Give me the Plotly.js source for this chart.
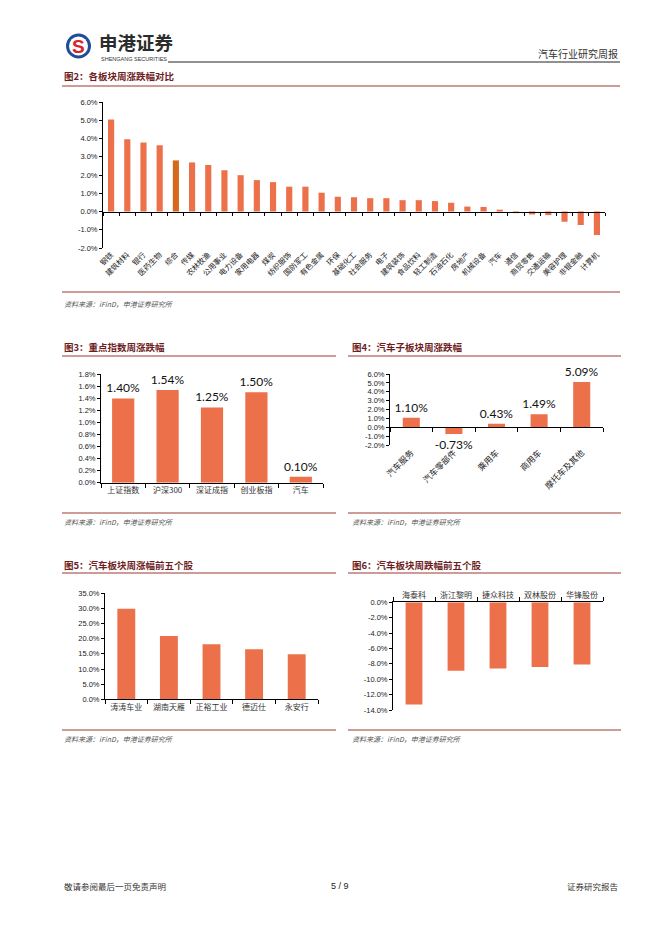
<!DOCTYPE html>
<html>
<head>
<meta charset="utf-8">
<script src="https://cdn.plot.ly/plotly-3.0.1.min.js"></script>
<style>
html,body{margin:0;padding:0;background:#fff;}
#page{width:662px;height:936px;}
</style>
</head>
<body>
<div id="page"></div>
<script>
// ---------- data ----------
const f2Cats = ['钢铁','建筑材料','银行','医药生物','综合','传媒','农林牧渔','公用事业','电力设备','家用电器','煤炭','纺织服饰','国防军工','有色金属','环保','基础化工','社会服务','电子','建筑装饰','食品饮料','轻工制造','石油石化','房地产','机械设备','汽车','通信','商贸零售','交通运输','美容护理','非银金融','计算机'];
const f2Vals = [5.04,3.96,3.78,3.63,2.80,2.69,2.55,2.26,1.99,1.72,1.61,1.36,1.36,1.03,0.81,0.78,0.73,0.73,0.62,0.62,0.57,0.48,0.27,0.25,0.10,-0.09,-0.16,-0.20,-0.56,-0.74,-1.29];
const f2Highlight = '综合';
const f2Ticks = [-2,-1,0,1,2,3,4,5,6];

const f3Cats = ['上证指数','沪深300','深证成指','创业板指','汽车'];
const f3Vals = [1.40,1.54,1.25,1.50,0.10];
const f3Ticks = [0,0.2,0.4,0.6,0.8,1.0,1.2,1.4,1.6,1.8];

const f4Cats = ['汽车服务','汽车零部件','乘用车','商用车','摩托车及其他'];
const f4Vals = [1.10,-0.73,0.43,1.49,5.09];
const f4Ticks = [-2,-1,0,1,2,3,4,5,6];

const f5Cats = ['涛涛车业','湖南天雁','正裕工业','德迈仕','永安行'];
const f5Vals = [29.9,20.9,18.2,16.5,14.9];
const f5Ticks = [0,5,10,15,20,25,30,35];

const f6Cats = ['海泰科','浙江黎明','捷众科技','双林股份','华锋股份'];
const f6Vals = [-13.3,-8.9,-8.6,-8.4,-8.1];
const f6Ticks = [0,-2,-4,-6,-8,-10,-12,-14];

// ---------- helpers ----------
const W = 662, H = 936;
const X = p => p / W;
const Y = p => 1 - p / H;
const pct1 = v => v.toFixed(1) + '%';
const pct2 = v => v.toFixed(2) + '%';
const zeroPos = (dom, rng) => dom[0] + (0 - rng[0]) / (rng[1] - rng[0]) * (dom[1] - dom[0]);

const BAR = '#EC7049';
const BAR_DARK = '#D5691C';
const RED_LINE = '#9B3A2E';
const TITLE_COL = '#6E1E1E';
const CJK = 'Noto Sans CJK SC, sans-serif';
const LAT = 'Liberation Sans, Arial, sans-serif';
const LBL = 'Lato, Carlito, sans-serif';

// domains
const d2x = [X(103), X(605)], d2y = [Y(248), Y(102)], r2 = [-2, 6];
const d3x = [X(101), X(323)], d3y = [Y(482.7), Y(374.3)], r3 = [0, 1.8];
const d4x = [X(390), X(603)], d4y = [Y(445.3), Y(374)], r4 = [-2, 6];
const d5x = [X(105), X(318)], d5y = [Y(699.3), Y(593.3)], r5 = [0, 35];
const d6x = [X(393), X(603)], d6y = [Y(710), Y(602.3)], r6 = [-14, 0];

// ---------- traces ----------
const traces = [
  {type:'bar', x:f2Cats, y:f2Vals, xaxis:'x', yaxis:'y', width:0.38,
   marker:{color:f2Cats.map(c => c === f2Highlight ? BAR_DARK : BAR)}, hoverinfo:'skip'},
  {type:'bar', x:f2Cats, y:f2Vals, xaxis:'x6', yaxis:'y', width:0.38,
   marker:{color:'rgba(0,0,0,0)'}, hoverinfo:'skip'},
  {type:'bar', x:f3Cats, y:f3Vals, xaxis:'x2', yaxis:'y2', width:0.5,
   marker:{color:BAR}, text:f3Vals.map(pct2), textposition:'outside', cliponaxis:false, constraintext:'none',
   textfont:{family:LBL, size:12, color:'#111'}, hoverinfo:'skip'},
  {type:'bar', x:f4Cats, y:f4Vals, xaxis:'x3', yaxis:'y3', width:0.4,
   marker:{color:BAR}, text:f4Vals.map(pct2), textposition:'outside', cliponaxis:false, constraintext:'none',
   textfont:{family:LBL, size:12, color:'#111'}, hoverinfo:'skip'},
  {type:'bar', x:f4Cats, y:f4Vals, xaxis:'x7', yaxis:'y3', width:0.4,
   marker:{color:'rgba(0,0,0,0)'}, hoverinfo:'skip'},
  {type:'bar', x:f5Cats, y:f5Vals, xaxis:'x4', yaxis:'y4', width:0.42,
   marker:{color:BAR}, hoverinfo:'skip'},
  {type:'bar', x:f6Cats, y:f6Vals, xaxis:'x5', yaxis:'y5', width:0.4,
   marker:{color:BAR}, hoverinfo:'skip'}
];

// ---------- axes ----------
const yTickFont = {family:LAT, size:7.5, color:'#222'};
const catFont = {family:CJK, size:8, color:'#333'};
function yAx(dom, rng, ticks, anchor){
  return {domain:dom, range:rng, anchor:anchor, tickmode:'array', tickvals:ticks, ticktext:ticks.map(pct1),
    showline:true, linecolor:'#000', linewidth:1, ticks:'outside', ticklen:3, tickcolor:'#000',
    showgrid:false, zeroline:false, tickfont:yTickFont, fixedrange:true};
}
function xCatAx(dom, n, anchor, extra){
  return Object.assign({domain:dom, anchor:anchor, type:'category', range:[-0.5, n-0.5], dtick:1,
    showline:true, linecolor:'#000', linewidth:1, ticks:'outside', tickson:'boundaries', ticklen:4, tickcolor:'#000',
    tickangle:0, showgrid:false, zeroline:false, tickfont:catFont, fixedrange:true}, extra||{});
}

const layout = {
  width:W, height:H, margin:{l:0,r:0,t:0,b:0},
  paper_bgcolor:'#fff', plot_bgcolor:'rgba(0,0,0,0)', showlegend:false,
  font:{family:LAT, size:8, color:'#222'},
  // Fig 2
  xaxis:{domain:d2x, anchor:'y', type:'category', range:[-0.5, f2Cats.length-0.5], dtick:1,
    showline:false, ticks:'', tickangle:-45, showgrid:false, zeroline:false,
    tickfont:{family:CJK, size:7.5, color:'#222'}, fixedrange:true},
  yaxis:yAx(d2y, r2, f2Ticks, 'x'),
  xaxis6:{overlaying:'x', anchor:'free', position:zeroPos(d2y, r2), type:'category',
    range:[-0.5, f2Cats.length-0.5], dtick:1, showline:true, linecolor:'#000', linewidth:1,
    ticks:'outside', tickson:'boundaries', ticklen:3, tickcolor:'#000', showticklabels:false,
    showgrid:false, zeroline:false, fixedrange:true},
  // Fig 3
  xaxis2:xCatAx(d3x, f3Cats.length, 'y2'),
  yaxis2:yAx(d3y, r3, f3Ticks, 'x2'),
  // Fig 4
  xaxis3:{domain:d4x, anchor:'y3', type:'category', range:[-0.5, f4Cats.length-0.5], dtick:1,
    showline:false, ticks:'', tickangle:-45, showgrid:false, zeroline:false,
    tickfont:{family:CJK, size:8.5, color:'#222'}, fixedrange:true},
  yaxis3:yAx(d4y, r4, f4Ticks, 'x3'),
  xaxis7:{overlaying:'x3', anchor:'free', position:zeroPos(d4y, r4), type:'category',
    range:[-0.5, f4Cats.length-0.5], dtick:1, showline:true, linecolor:'#000', linewidth:1,
    ticks:'outside', tickson:'boundaries', ticklen:4, tickcolor:'#000', showticklabels:false,
    showgrid:false, zeroline:false, fixedrange:true},
  // Fig 5
  xaxis4:xCatAx(d5x, f5Cats.length, 'y4'),
  yaxis4:yAx(d5y, r5, f5Ticks, 'x4'),
  // Fig 6
  xaxis5:xCatAx(d6x, f6Cats.length, 'y5', {side:'top'}),
  yaxis5:yAx(d6y, r6, f6Ticks, 'x5'),
  shapes:[], annotations:[]
};

// ---------- page decorations ----------
function hline(y, x0, x1, color, w){
  layout.shapes.push({type:'line', xref:'paper', yref:'paper', x0:X(x0), x1:X(x1), y0:Y(y), y1:Y(y),
    line:{color:color, width:w}});
}
function txt(text, x, y, opt){
  layout.annotations.push(Object.assign({text:text, xref:'paper', yref:'paper', x:X(x), y:Y(y),
    xanchor:'left', yanchor:'middle', showarrow:false}, opt||{}));
}

// logo
layout.shapes.push({type:'circle', xref:'paper', yref:'paper', x0:X(66), x1:X(91), y0:Y(58.5), y1:Y(33.5),
  fillcolor:'#1E4D9B', line:{width:0}});
layout.shapes.push({type:'circle', xref:'paper', yref:'paper', x0:X(69), x1:X(88), y0:Y(55.5), y1:Y(36.5),
  fillcolor:'#fff', line:{width:0}});
txt('<b>S</b>', 78.5, 46.5, {xanchor:'center', font:{family:LAT, size:19, color:'#D9232D'}});
txt('<b>申港证券</b>', 97, 42.5, {font:{family:CJK, size:18.5, color:'#2B2B2B'}});
txt('SHENGANG SECURITIES', 99, 58.5, {font:{family:LAT, size:5.5, color:'#333'}});
hline(62, 168, 620, '#222', 1);
txt('汽车行业研究周报', 620, 53, {xanchor:'right', font:{family:CJK, size:10, color:'#333'}});

// figure titles & rules
const titleFont = {family:CJK, size:9.5, color:TITLE_COL};
const srcFont = {family:CJK, size:7, color:'#555'};
const SRC = '<i>资料来源：iFinD，申港证券研究所</i>';

txt('<b>图2：各板块周涨跌幅对比</b>', 62, 76, {font:titleFont});
hline(86, 62, 620, RED_LINE, 1.2);
hline(292, 62, 620, RED_LINE, 1.2);
txt(SRC, 62, 304, {font:srcFont});

txt('<b>图3：重点指数周涨跌幅</b>', 62, 347, {font:titleFont});
hline(356, 62, 336, RED_LINE, 1.2);
hline(513, 62, 336, RED_LINE, 1.2);
txt(SRC, 62, 522, {font:srcFont});

txt('<b>图4：汽车子板块周涨跌幅</b>', 350, 347, {font:titleFont});
hline(356, 348, 621, RED_LINE, 1.2);
hline(513, 348, 621, RED_LINE, 1.2);
txt(SRC, 350, 522, {font:srcFont});

txt('<b>图5：汽车板块周涨幅前五个股</b>', 62, 565, {font:titleFont});
hline(573, 62, 336, RED_LINE, 1.2);
hline(730, 62, 336, RED_LINE, 1.2);
txt(SRC, 62, 739, {font:srcFont});

txt('<b>图6：汽车板块周跌幅前五个股</b>', 350, 565, {font:titleFont});
hline(573, 348, 621, RED_LINE, 1.2);
hline(730, 348, 621, RED_LINE, 1.2);
txt(SRC, 350, 739, {font:srcFont});

// footer
txt('敬请参阅最后一页免责声明', 62, 886, {font:{family:CJK, size:8.5, color:'#333'}});
txt('5 / 9', 340, 886, {xanchor:'center', font:{family:LAT, size:9, color:'#222'}});
txt('证券研究报告', 620, 886, {xanchor:'right', font:{family:CJK, size:8.5, color:'#333'}});

Plotly.newPlot('page', traces, layout, {displayModeBar:false, staticPlot:true});
</script>
</body>
</html>
